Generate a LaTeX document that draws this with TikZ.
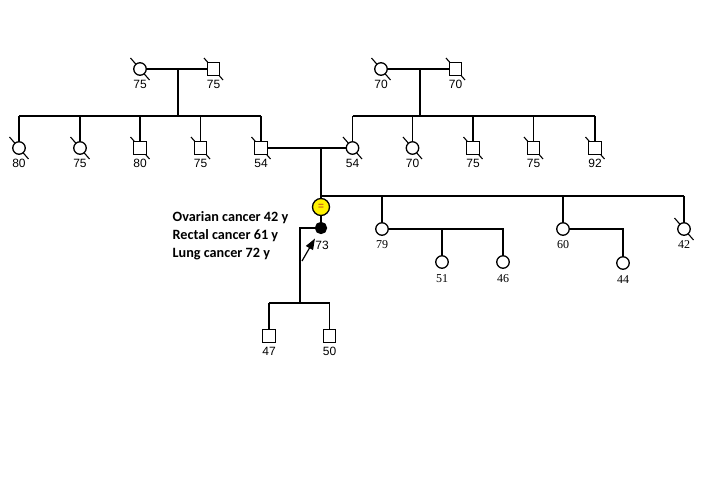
\documentclass[tikz,border=0pt]{standalone}
\usepackage{fontspec}
\setmainfont{Liberation Sans}
\newfontfamily\notefont{Carlito}
\newfontfamily\serifage{Liberation Serif}
\usetikzlibrary{arrows.meta,backgrounds,calc}
\definecolor{eqcol}{RGB}{200,100,30}
\tikzset{
	female/.style={circle, draw, fill=white, minimum size=12.5pt, inner sep=0pt},
	male/.style={rectangle, draw, fill=white, minimum size=12.5pt, inner sep=0pt},
	age/.style={font=\fontsize{12}{12}\selectfont, inner sep=0pt, label distance=4pt},
	sage/.style={age, font=\serifage\fontsize{12}{12}\selectfont},
	note/.style={font=\notefont\bfseries\fontsize{14.2}{18}\selectfont, align=left, inner sep=0pt}
}
\begin{document}
\begin{tikzpicture}[x=1pt, y=-1pt, line width=1.3pt]
	\useasboundingbox (0,0) rectangle (706,497);
	\node[female, label={[age]below:75}] (gm1) at (140,69) {};
	\node[male, label={[age]below:75}] (gf1) at (213.5,69) {};
	\node[female, label={[age]below:70}] (gm2) at (381,69) {};
	\node[male, label={[age]below:70}] (gf2) at (455.5,69) {};
	\foreach \n/\x/\s/\a in {a1/19/female/80, a2/80/female/75, a3/140/male/80, a4/200.5/male/75, a5/261/male/54}
		\node[\s, label={[age]below:\a}] (\n) at (\x,148) {};
	\foreach \n/\x/\s/\a in {b1/352.5/female/54, b2/412.5/female/70, b3/473/male/75, b4/533.5/male/75, b5/595/male/92}
		\node[\s, label={[age]below:\a}] (\n) at (\x,148) {};
	\node[circle, draw, fill=yellow, minimum size=17pt, inner sep=0pt, text=eqcol, font=\bfseries] (yc) at (321,207) {=};
	\node[circle, draw, fill=black, minimum size=11pt, inner sep=0pt, label={[age, label distance=6pt, xshift=1pt]below:73}] (pb) at (321,228) {};
	\node[female, label={[sage]below:79}] (c79) at (382,229) {};
	\node[female, label={[sage]below:60}] (c60) at (563,229) {};
	\node[female, label={[sage]below:42}] (c42) at (684,229) {};
	\node[female, label={[sage, label distance=5.5pt]below:51}] (c51) at (442,262) {};
	\node[female, label={[sage, label distance=5.5pt]below:46}] (c46) at (503,262) {};
	\node[female, label={[sage, label distance=5.5pt]below:44}] (c44) at (623,263) {};
	\node[male, label={[age]below:47}] (g1) at (269,336) {};
	\node[male, label={[age]below:50}] (g2) at (329.5,336) {};
	\node[note, anchor=west] (hist) at (172,236) {Ovarian cancer 42 y\\Rectal cancer 61 y\\Lung cancer 72 y};
	\coordinate (d1) at (178,69);
	\coordinate (s1) at (178,116);
	\coordinate (d2) at (420,69);
	\coordinate (s2) at (420,116);
	\coordinate (d3) at (321,148);
	\coordinate (s3) at (321,196);
	\coordinate (s4) at (300,303);
	\coordinate (pa) at (302,261);
	\draw (gm1) -- (gf1);
	\draw (d1) -- (s1);
	\draw (a1 |- s1) -- (a5 |- s1);
	\foreach \n in {a1,a2,a3,a4,a5}
		\draw (\n) -- (\n |- s1);
	\draw (gm2) -- (gf2);
	\draw (d2) -- (s2);
	\draw (b1 |- s2) -- (b5 |- s2);
	\foreach \n in {b1,b2,b3,b4,b5}
		\draw (\n) -- (\n |- s2);
	\draw (a5) -- (b1);
	\draw (d3) -- (yc);
	\draw (s3) -- (c42 |- s3);
	\foreach \n in {c79,c60,c42}
		\draw (\n) -- (\n |- s3);
	\draw (yc) -- (pb);
	\draw (c79) -| (c46);
	\draw (c51) -- (c51 |- c79);
	\draw (c60) -| (c44);
	\draw (pb) -| (s4);
	\draw (g1 |- s4) -- (g2 |- s4);
	\draw (g1) -- (g1 |- s4);
	\draw (g2) -- (g2 |- s4);
	\draw[line width=1.2pt, -{Triangle[length=11pt, width=8pt]}, shorten >=6pt] (pa) -- (pb);
	\begin{scope}[on background layer]
		\foreach \p in {gm1,gf1,gm2,gf2,a1,a2,a3,a4,a5,b1,b2,b3,b4,b5,c42}
			\draw[line width=1.1pt] ($(\p)+(-9.5,-11)$) -- ($(\p)+(9.5,11)$);
	\end{scope}
\end{tikzpicture}
\end{document}
